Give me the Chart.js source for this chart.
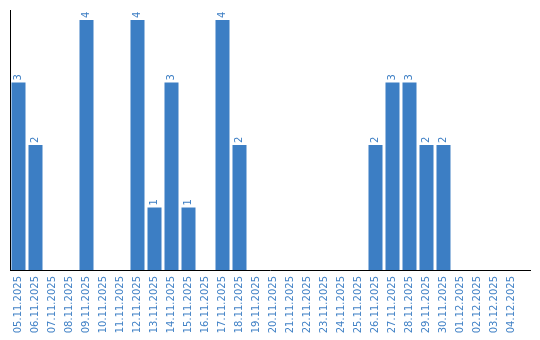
<!DOCTYPE html>
<html>
<head>
<meta charset="utf-8">
<script src="https://cdn.jsdelivr.net/npm/chart.js@4/dist/chart.umd.min.js"></script>
<style>
  html, body { margin: 0; padding: 0; background: #fff; }
  #wrap { width: 540px; height: 340px; }
</style>
</head>
<body>
<div id="wrap"><canvas id="myChart" width="540" height="340"></canvas></div>
<script>
const dates = [
  "05.11.2025", "06.11.2025", "07.11.2025", "08.11.2025", "09.11.2025",
  "10.11.2025", "11.11.2025", "12.11.2025", "13.11.2025", "14.11.2025",
  "15.11.2025", "16.11.2025", "17.11.2025", "18.11.2025", "19.11.2025",
  "20.11.2025", "21.11.2025", "22.11.2025", "23.11.2025", "24.11.2025",
  "25.11.2025", "26.11.2025", "27.11.2025", "28.11.2025", "29.11.2025",
  "30.11.2025", "01.12.2025", "02.12.2025", "03.12.2025", "04.12.2025"
];
const counts = [
  3, 2, 0, 0, 4, 0, 0, 4, 1, 3,
  1, 0, 4, 2, 0, 0, 0, 0, 0, 0,
  0, 2, 3, 3, 2, 2, 0, 0, 0, 0
];

const blue = '#3c7ec4';

// vertical value labels above each bar + x axis line running past the last bar
const valueLabels = {
  id: 'valueLabels',
  afterDatasetsDraw(chart) {
    const ctx = chart.ctx;
    const area = chart.chartArea;
    const meta = chart.getDatasetMeta(0);
    ctx.save();
    ctx.strokeStyle = '#000';
    ctx.lineWidth = 1;
    ctx.beginPath();
    ctx.moveTo(area.left, area.bottom + 0.5);
    ctx.lineTo(area.right + 11, area.bottom + 0.5);
    ctx.stroke();

    ctx.font = '10px "DejaVu Sans"';
    ctx.fillStyle = blue;
    ctx.textAlign = 'left';
    ctx.textBaseline = 'middle';
    meta.data.forEach((bar, i) => {
      if (!counts[i]) return;
      ctx.save();
      ctx.translate(bar.x, bar.y - 2);
      ctx.rotate(-Math.PI / 2);
      ctx.fillText(String(counts[i]), 0, 0);
      ctx.restore();
    });
    ctx.restore();
  }
};

new Chart(document.getElementById('myChart'), {
  type: 'bar',
  data: {
    labels: dates,
    datasets: [{
      data: counts,
      backgroundColor: blue,
      borderWidth: 0,
      barPercentage: 0.824,
      categoryPercentage: 1.0
    }]
  },
  options: {
    responsive: false,
    animation: false,
    layout: { padding: { top: 10, right: 20, left: 0, bottom: 0 } },
    plugins: { legend: { display: false }, tooltip: { enabled: false } },
    scales: {
      x: {
        grid: { display: false, drawTicks: false },
        border: { display: false },
        ticks: {
          autoSkip: false,
          minRotation: 90,
          maxRotation: 90,
          padding: 6,
          color: '#4282c6',
          font: { family: 'DejaVu Sans', size: 10 }
        },
        afterFit: s => { s.height = 70; }
      },
      y: {
        min: 0,
        max: 4.16,
        grid: { display: false, drawTicks: false },
        border: { display: true, color: '#000', width: 1 },
        ticks: { display: false },
        afterFit: s => { s.width = 10; }
      }
    }
  },
  plugins: [valueLabels]
});
</script>
</body>
</html>
